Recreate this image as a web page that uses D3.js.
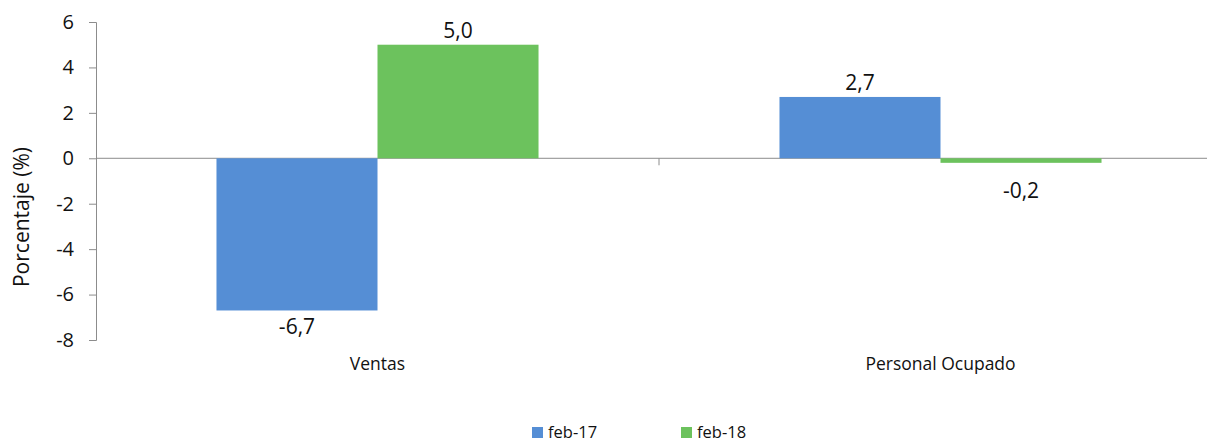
<!DOCTYPE html>
<html>
<head>
<meta charset="utf-8">
<script src="https://cdn.jsdelivr.net/npm/d3@7"></script>
<style>
  body { margin: 0; background: #fff; }
  text { font-family: "Open Sans", "Noto Sans", sans-serif; fill: #111; }
</style>
</head>
<body>
<div id="chart"></div>
<script>
/* Ventas y personal ocupado, variación anual */

const categories = ["Ventas", "Personal Ocupado"];
const seriesNames = ["feb-17", "feb-18"];
const feb17 = [-6.7, 2.7];
const feb18 = [5.0, -0.2];
const yTicks = [-8, -6, -4, -2, 0, 2, 4, 6];

const colors = ["#558ed5", "#6cc25d"];
const width = 1207, height = 443;
const margin = { top: 22, left: 96, right: -15, bottom: 103 };

const svg = d3.select("#chart").append("svg")
  .attr("width", width)
  .attr("height", height);

const x = d3.scaleBand()
  .domain(categories)
  .range([margin.left, width - margin.right])
  .paddingInner(0.428)
  .paddingOuter(0.214);

const xOuter = d3.scaleBand()
  .domain(categories)
  .range([margin.left, width - margin.right]);

const xSub = d3.scaleBand()
  .domain(seriesNames)
  .range([0, x.bandwidth()]);

const y = d3.scaleLinear()
  .domain([-8, 6])
  .range([height - margin.bottom, margin.top]);

const axisColor = "#8c8c8c";

// y axis
const yAxis = svg.append("g")
  .attr("transform", `translate(${margin.left},0)`)
  .call(d3.axisLeft(y).tickValues(yTicks).tickSize(7).tickPadding(15).tickFormat(d3.format("d")));
yAxis.select(".domain").attr("stroke", axisColor);
yAxis.selectAll(".tick line").attr("stroke", axisColor);
yAxis.selectAll(".tick text")
  .attr("font-size", 20)
  .attr("fill", "#111")
  .style("font-family", "'Open Sans', sans-serif")
  .text(d => d < 0 ? "-" + Math.abs(d) : d);

// zero line with category divider tick
svg.append("line")
  .attr("x1", margin.left).attr("x2", width)
  .attr("y1", y(0)).attr("y2", y(0))
  .attr("stroke", axisColor);
svg.append("line")
  .attr("x1", xOuter(categories[1])).attr("x2", xOuter(categories[1]))
  .attr("y1", y(0)).attr("y2", y(0) + 7)
  .attr("stroke", axisColor);

// bars
const rows = categories.map((c, i) => ({ cat: c, vals: [feb17[i], feb18[i]] }));
const groups = svg.selectAll(".grp")
  .data(rows)
  .join("g")
  .attr("transform", d => `translate(${x(d.cat)},0)`);

groups.selectAll("rect")
  .data(d => d.vals.map((v, k) => ({ v, k })))
  .join("rect")
  .attr("x", d => xSub(seriesNames[d.k]))
  .attr("width", xSub.bandwidth())
  .attr("y", d => y(Math.max(0, d.v)))
  .attr("height", d => Math.abs(y(d.v) - y(0)))
  .attr("fill", d => colors[d.k]);

groups.selectAll(".lbl")
  .data(d => d.vals.map((v, k) => ({ v, k })))
  .join("text")
  .attr("class", "lbl")
  .attr("x", d => xSub(seriesNames[d.k]) + xSub.bandwidth() / 2)
  .attr("y", d => d.v >= 0 ? y(d.v) - 7 : Math.max(y(d.v), y(0) + 16) + 24)
  .attr("text-anchor", "middle")
  .attr("font-size", 21)
  .text(d => d.v.toFixed(1).replace(".", ","));

// category labels
svg.selectAll(".cat")
  .data(categories)
  .join("text")
  .attr("class", "cat")
  .attr("x", d => x(d) + x.bandwidth() / 2)
  .attr("y", 370)
  .attr("text-anchor", "middle")
  .attr("font-size", 17.5)
  .text(d => d);

// y label
svg.append("text")
  .attr("transform", `translate(29,${(y(6) + y(-8)) / 2 + 36}) rotate(-90)`)
  .attr("text-anchor", "middle")
  .attr("font-size", 21)
  .text("Porcentaje (%)");

// legend
const legendX = [532, 681];
const legend = svg.selectAll(".leg")
  .data(seriesNames)
  .join("g")
  .attr("transform", (d, i) => `translate(${legendX[i]},426)`);
legend.append("rect")
  .attr("y", 1)
  .attr("width", 11).attr("height", 11)
  .attr("fill", (d, i) => colors[i]);
legend.append("text")
  .attr("x", 16).attr("y", 11.5)
  .attr("font-size", 16.5)
  .text(d => d);
</script>
</body>
</html>
